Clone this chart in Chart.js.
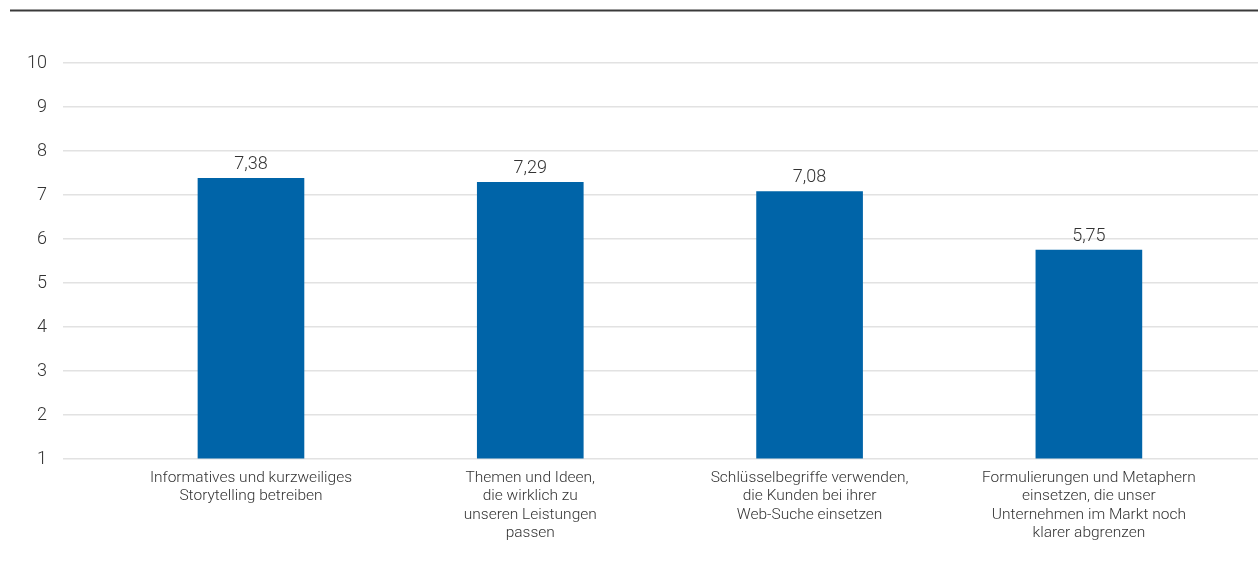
<!DOCTYPE html>
<html>
<head>
<meta charset="utf-8">
<script src="https://cdn.jsdelivr.net/npm/chart.js@4"></script>
<style>
  html, body { margin: 0; padding: 0; background: #ffffff; }
  #wrap { position: relative; width: 1258px; height: 566px; }
</style>
</head>
<body>
<div id="wrap"><canvas id="c" width="1258" height="566"></canvas></div>
<script>
const categories = [
  ["Informatives und kurzweiliges", "Storytelling betreiben"],
  ["Themen und Ideen,", "die wirklich zu", "unseren Leistungen", "passen"],
  ["Schlüsselbegriffe verwenden,", "die Kunden bei ihrer", "Web-Suche einsetzen"],
  ["Formulierungen und Metaphern", "einsetzen, die unser", "Unternehmen im Markt noch", "klarer abgrenzen"]
];
const values = [7.38, 7.29, 7.08, 5.75];
const valueLabels = ["7,38", "7,29", "7,08", "5,75"];
const yTicks = [1, 2, 3, 4, 5, 6, 7, 8, 9, 10];

const FONT = "Roboto, 'Liberation Sans', Arial, sans-serif";

const topLine = {
  id: 'topLine',
  afterDraw(chart) {
    const ctx = chart.ctx;
    ctx.save();
    ctx.strokeStyle = '#3a3a3a';
    ctx.lineWidth = 2;
    ctx.beginPath();
    ctx.moveTo(10, 10.5);
    ctx.lineTo(chart.width, 10.5);
    ctx.stroke();
    ctx.restore();
  }
};

const valueLabelPlugin = {
  id: 'valueLabels',
  afterDatasetsDraw(chart) {
    const ctx = chart.ctx;
    const meta = chart.getDatasetMeta(0);
    ctx.save();
    ctx.font = "300 18px " + FONT;
    ctx.fillStyle = '#333333';
    ctx.textAlign = 'center';
    ctx.textBaseline = 'alphabetic';
    meta.data.forEach((bar, i) => {
      ctx.fillText(valueLabels[i], bar.x, bar.y - 9);
    });
    ctx.restore();
  }
};

new Chart(document.getElementById('c'), {
  type: 'bar',
  data: {
    datasets: [{
      data: values.map((v, i) => ({ x: i, y: v })),
      backgroundColor: '#0064a8',
      borderWidth: 0,
      barThickness: 106,
      base: 1
    }]
  },
  options: {
    responsive: false,
    animation: false,
    events: [],
    layout: { padding: { top: 63, right: 0, left: 0, bottom: 0 } },
    plugins: {
      legend: { display: false },
      tooltip: { enabled: false }
    },
    scales: {
      x: {
        type: 'linear',
        offset: false,
        min: -0.673,
        max: 3.6055,
        grid: { display: false, drawTicks: false, offset: false },
        border: { display: false },
        afterBuildTicks(scale) {
          scale.ticks = categories.map((_, i) => ({ value: i }));
        },
        afterFit(scale) { scale.height = 107; },
        ticks: {
          autoSkip: false,
          maxRotation: 0,
          minRotation: 0,
          padding: 10,
          color: '#333333',
          font: { family: FONT, size: 15.5, weight: '300', lineHeight: 1.18 },
          callback: (v) => categories[v]
        }
      },
      y: {
        min: 1,
        max: 10,
        afterBuildTicks(scale) {
          scale.ticks = yTicks.map(v => ({ value: v }));
        },
        afterFit(scale) { scale.width = 63; },
        grid: { color: '#e2e2e2', lineWidth: 1.5, drawTicks: false },
        border: { display: false },
        ticks: {
          padding: 16,
          color: '#333333',
          font: { family: FONT, size: 18, weight: '300' },
          callback: (v) => String(v)
        }
      }
    }
  },
  plugins: [topLine, valueLabelPlugin]
});
</script>
</body>
</html>
